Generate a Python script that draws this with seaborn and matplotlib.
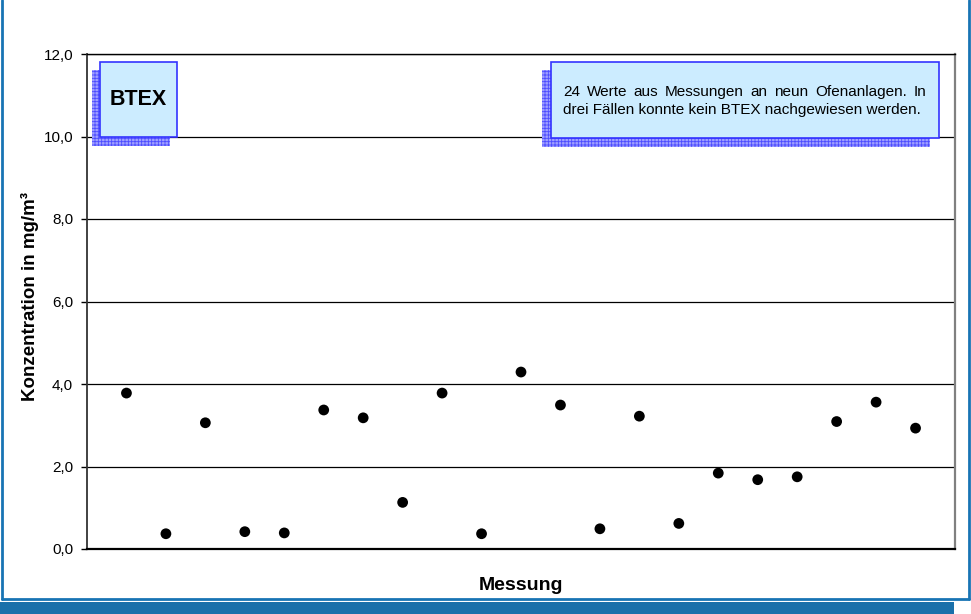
import pandas as pd
import matplotlib
matplotlib.use('Agg')
import matplotlib.pyplot as plt
import seaborn as sns
from matplotlib.patches import Rectangle
from matplotlib.lines import Line2D
from matplotlib.ticker import FuncFormatter

# Daten
messung = list(range(1, 22))
konzentration = [3.78, 0.37, 3.06, 0.42, 0.39, 3.37, 3.18, 1.13, 3.78, 0.37, 4.29,
                 3.49, 0.49, 3.22, 0.62, 1.84, 1.68, 1.75, 3.09, 3.56, 2.93]
y_ticks = [0, 2, 4, 6, 8, 10, 12]
titel = 'BTEX'
hinweis_zeilen = ['24 Werte aus Messungen an neun Ofenanlagen. In',
                  'drei Fällen konnte kein BTEX nachgewiesen werden.']

df = pd.DataFrame({'Messung': messung, 'Konzentration': konzentration})

sns.set_style('white')
plt.rcParams['font.family'] = ['Liberation Sans', 'DejaVu Sans']
plt.rcParams['text.color'] = 'black'
plt.rcParams['axes.labelcolor'] = 'black'
plt.rcParams['ytick.color'] = 'black'
plt.rcParams['hatch.linewidth'] = 0.6

fig = plt.figure(figsize=(9.71, 6.14), dpi=100)
ax = fig.add_axes([87 / 971, 65 / 614, 868 / 971, 495 / 614])

sns.scatterplot(data=df, x='Messung', y='Konzentration', ax=ax,
                color='black', s=60, edgecolor='none', zorder=5)

ax.set_xlim(0, 22)
ax.set_ylim(0, 12)
ax.set_xticks([])
ax.set_yticks(y_ticks)
ax.yaxis.set_major_formatter(FuncFormatter(lambda v, p: f'{v:.1f}'.replace('.', ',')))
ax.tick_params(axis='y', left=True, length=4, width=1, color='black',
               labelsize=11, pad=6, direction='out', labelcolor='black')
ax.yaxis.grid(True, color='black', linewidth=0.9)
ax.set_axisbelow(True)

ax.spines['left'].set_color('#333333')
ax.spines['left'].set_linewidth(1.3)
ax.spines['bottom'].set_color('black')
ax.spines['bottom'].set_linewidth(1.6)
ax.spines['right'].set_color('#808080')
ax.spines['right'].set_linewidth(1.6)
ax.spines['top'].set_color('black')
ax.spines['top'].set_linewidth(1.0)

ax.set_xlabel('Messung', fontsize=14, fontweight='bold', color='black')
ax.set_ylabel('Konzentration in mg/m³', fontsize=13.5, fontweight='bold', color='black')
ax.xaxis.set_label_coords(0.5, -0.057)
ax.yaxis.set_label_coords(-0.055, 0.51)


def px_box(x0, y0, x1, y1):
    # Pixelkoordinaten -> Achsenbruchteile
    return ((x0 - 87) / 868, (549 - y1) / 495, (x1 - x0) / 868, (y1 - y0) / 495)


def schatten_box(haupt, schatten):
    sx, sy, sw, sh = px_box(*schatten)
    ax.add_patch(Rectangle((sx, sy), sw, sh, transform=ax.transAxes,
                           facecolor='#a0a0ff', edgecolor='#4d4dff', hatch='+++++',
                           linewidth=0, zorder=6, clip_on=False))
    hx, hy, hw, hh = px_box(*haupt)
    ax.add_patch(Rectangle((hx, hy), hw, hh, transform=ax.transAxes,
                           facecolor='#ccecff', edgecolor='#3333ff',
                           linewidth=1.2, zorder=7, clip_on=False))
    return hx, hy, hw, hh


bx, by, bw, bh = schatten_box((100, 62, 177, 137), (92, 70, 170, 146))
ax.text(bx + bw / 2, by + bh / 2, titel, transform=ax.transAxes, ha='center',
        va='center', fontsize=15.5, fontweight='bold', zorder=8)

schatten_box((551, 62, 939, 138), (542, 70, 930, 147))

# Blocksatz fuer die erste Zeile
fig.canvas.draw()
renderer = fig.canvas.get_renderer()
links, rechts = 563, 926
inv = ax.transAxes.inverted()
zeile_y = [92, 110]
woerter = hinweis_zeilen[0].split(' ')
texte = []
breiten = []
for w in woerter:
    t = ax.text(0, 0, w, transform=ax.transAxes, fontsize=11, va='center',
                ha='left', zorder=8)
    texte.append(t)
    breiten.append(t.get_window_extent(renderer).width)
luecke = (rechts - links - sum(breiten)) / (len(woerter) - 1)
xpos = links
for t, b in zip(texte, breiten):
    pos = inv.transform((xpos, 614 - zeile_y[0]))
    t.set_position(pos)
    xpos += b + luecke
pos = inv.transform((links, 614 - zeile_y[1]))
ax.text(pos[0], pos[1], hinweis_zeilen[1], transform=ax.transAxes, fontsize=11,
        va='center', ha='left', zorder=8)

# Rahmen der Abbildung
blau = '#1874b4'
fig.add_artist(Line2D([2 / 971, 2 / 971], [15 / 614, 1], transform=fig.transFigure,
                      color=blau, linewidth=2))
fig.add_artist(Line2D([969 / 971, 969 / 971], [15 / 614, 1], transform=fig.transFigure,
                      color=blau, linewidth=2))
fig.add_artist(Line2D([2 / 971, 969 / 971], [15 / 614, 15 / 614], transform=fig.transFigure,
                      color=blau, linewidth=2))
fig.add_artist(Rectangle((0, 0), 954 / 971, 12 / 614, transform=fig.transFigure,
                         facecolor='#1a70aa', edgecolor='none'))

plt.savefig('out.png', dpi=100)
plt.close()
